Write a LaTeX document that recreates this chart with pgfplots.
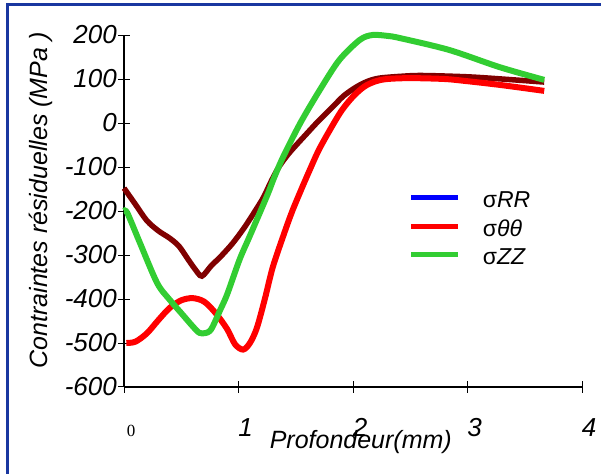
\documentclass[border=0pt]{standalone}
\usepackage{pgfplots}
\pgfplotsset{compat=1.18}
\usepackage{fontspec}
\setmainfont{Liberation Sans}
\newfontfamily\tnr{Liberation Serif}
\definecolor{frameblue}{RGB}{25,55,160}
\definecolor{maroonc}{RGB}{128,0,0}
\definecolor{greenc}{RGB}{50,205,50}
\begin{document}
\begin{tikzpicture}[x=1pt,y=1pt]
\useasboundingbox (0,0) rectangle (601,473);
\draw[frameblue, line width=3pt] (7,-20) -- (7,468) -- (640,468);
\begin{axis}[
  at={(124pt,86pt)}, anchor=south west,
  scale only axis, width=458pt, height=352pt,
  xmin=0,xmax=4,ymin=-600,ymax=200,
  axis x line=bottom, axis y line=left, axis line style={-, line width=1.2pt},
  clip=false,
  xtick={0,1,2,3,4}, xticklabels={{\tnr\upshape\fontsize{17}{20}\selectfont 0},1,2,3,4},
  ytick={-600,-500,...,200}, yticklabels={-600,-500,-400,-300,-200,-100,0,100,200},
  tick align=center, major tick length=12pt, tick style={black, line width=1pt},
  ticklabel style={font=\fontsize{26}{30}\selectfont\itshape},
  xticklabel style={anchor=base, yshift=-43pt, xshift=7pt, inner sep=0pt},
  yticklabel style={anchor=east, xshift=-1pt, inner sep=0pt},
  xlabel={Profondeur(mm)}, ylabel={Contraintes résiduelles (MPa )},
  label style={font=\fontsize{25}{30}\selectfont\itshape},
  xlabel style={at={(axis description cs:0.517,0)}, anchor=base, yshift=-61pt},
  ylabel style={at={(axis description cs:-0.181,0.53)}, anchor=center},
  legend style={draw=none, fill=none, at={(axis description cs:0.615,0.558)}, anchor=north west,
    font=\fontsize{23}{27}\selectfont, nodes={inner sep=0pt, text height=15pt, text depth=5pt},
    row sep=8.5pt, /tikz/every odd column/.append style={column sep=22pt}},
  legend cell align=left,
  legend image code/.code={\draw[#1] (0pt,5pt) -- (47pt,5pt);},
]
\addlegendimage{blue, line width=5pt}
\addlegendentry{σ\textit{RR}}
\addlegendimage{red, line width=5pt}
\addlegendentry{σ\textit{θθ}}
\addlegendimage{greenc, line width=5pt}
\addlegendentry{σ\textit{ZZ}}

% sigma RR (maroon)
\addplot[forget plot, maroonc, line width=5.5pt, smooth] coordinates {
(0,-148) (0.1,-185) (0.2,-222) (0.3,-245) (0.4,-262) (0.48,-280) (0.56,-310) (0.62,-332) (0.68,-348)
(0.76,-325) (0.85,-302) (0.95,-273) (1.05,-238) (1.15,-198) (1.22,-168) (1.29,-130) (1.36,-97)
(1.45,-66) (1.6,-23) (1.7,5) (1.82,36) (1.92,62) (2.03,82) (2.13,95) (2.23,102) (2.41,106)
(2.6,108) (3.0,105) (3.3,100) (3.67,93)
};
% sigma theta theta (red)
\addplot[forget plot, red, line width=6pt, smooth] coordinates {
(0.02,-500) (0.1,-497) (0.2,-478) (0.3,-448) (0.4,-420) (0.5,-403) (0.6,-398) (0.7,-406)
(0.8,-432) (0.9,-468) (0.97,-503) (1.04,-515) (1.1,-500) (1.16,-466) (1.23,-400) (1.3,-327)
(1.4,-250) (1.47,-200) (1.55,-150) (1.62,-108) (1.7,-62) (1.8,-15) (1.9,28) (2.0,60) (2.1,83)
(2.2,95) (2.3,100) (2.5,102) (2.8,100) (3.0,95) (3.3,86) (3.67,73)
};
% sigma ZZ (green)
\addplot[forget plot, greenc, line width=6pt, smooth] coordinates {
(0,-200) (0.03,-205) (0.14,-273) (0.29,-364) (0.4,-402) (0.5,-432) (0.6,-462) (0.66,-477)
(0.73,-476) (0.77,-465) (0.84,-425) (0.9,-390) (1.01,-310) (1.1,-256) (1.25,-165) (1.31,-125)
(1.39,-77) (1.54,0) (1.71,75) (1.88,143) (2.06,189) (2.17,200) (2.3,198) (2.41,193) (2.84,166)
(3.28,127) (3.67,98)
};
\end{axis}
\end{tikzpicture}
\end{document}
